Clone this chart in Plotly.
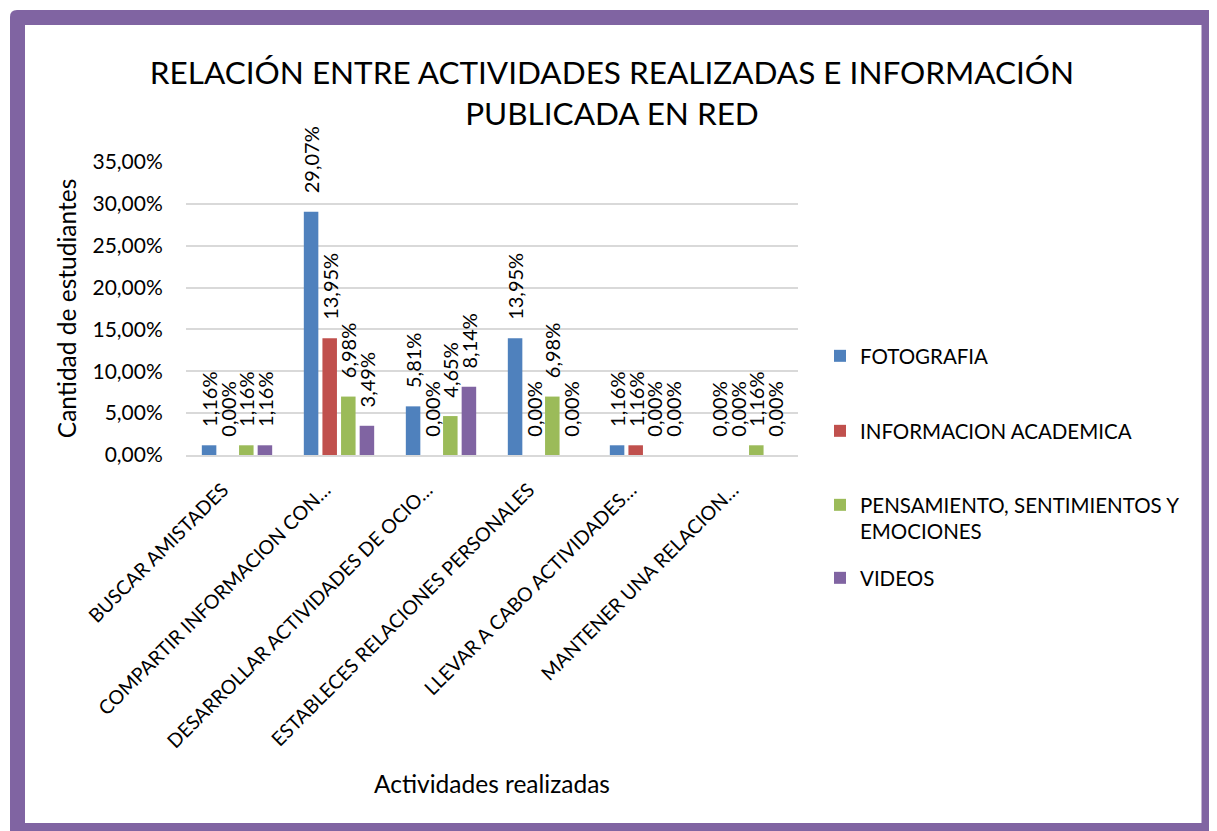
import plotly.graph_objects as go

categories = [
    "BUSCAR AMISTADES",
    "COMPARTIR INFORMACION CON…",
    "DESARROLLAR ACTIVIDADES DE OCIO…",
    "ESTABLECES RELACIONES PERSONALES",
    "LLEVAR A CABO ACTIVIDADES…",
    "MANTENER UNA RELACION…",
]
series_names = [
    "FOTOGRAFIA",
    "INFORMACION ACADEMICA",
    "PENSAMIENTO, SENTIMIENTOS Y<br>EMOCIONES",
    "VIDEOS",
]
fotografia = [1.16, 29.07, 5.81, 13.95, 1.16, 0.00]
informacion_academica = [0.00, 13.95, 0.00, 0.00, 1.16, 0.00]
pensamiento = [1.16, 6.98, 4.65, 6.98, 0.00, 1.16]
videos = [1.16, 3.49, 8.14, 0.00, 0.00, 0.00]
y_ticks = [0, 5, 10, 15, 20, 25, 30, 35]

series_values = [fotografia, informacion_academica, pensamiento, videos]
colors = ["#4F81BD", "#C0504D", "#9BBB59", "#8064A2"]

# page body adds an 8px offset; work in reference-pixel coordinates minus it
OFF = 8
W, H = 1217 - OFF, 831 - OFF
PL, PR, PT, PB = 186 - OFF, 798 - OFF, 162 - OFF, 455 - OFF
ML, MR, MT, MB = PL, W - PR, PT, H - PB
PW, PH = PR - PL, PB - PT


def px_x(px):
    return (px - OFF - ML) / PW


def px_y(py):
    return (PB - (py - OFF)) / PH


FONT = "Lato"
NB = "\u00a0"

fig = go.Figure()
legend_names = ["legend", "legend2", "legend3", "legend4"]
legend_y_ref = [356, 431, 505, 578]
for name, vals, col, lg in zip(series_names, series_values, colors, legend_names):
    fig.add_trace(go.Bar(
        name=name,
        x=categories,
        y=[v / 100 for v in vals],
        marker=dict(color=col, line=dict(width=0)),
        text=[(NB * 3 + f"{v:.2f}".replace(".", ",") + "%") for v in vals],
        textposition="outside",
        textangle=-90,
        constraintext="none",
        cliponaxis=False,
        textfont=dict(family=FONT, size=20, color="#000000"),
        legend=lg,
    ))

# frame
r = 7
x0, y0, x1, y1 = 10, 10, 1217, 845
path = (f"M {px_x(x0)},{px_y(y1)} L {px_x(x0)},{px_y(y0 + r)} "
        f"Q {px_x(x0)},{px_y(y0)} {px_x(x0 + r)},{px_y(y0)} "
        f"L {px_x(x1 - r)},{px_y(y0)} Q {px_x(x1)},{px_y(y0)} {px_x(x1)},{px_y(y0 + r)} "
        f"L {px_x(x1)},{px_y(y1)} Z")
fig.add_shape(type="path", path=path, xref="paper", yref="paper",
              fillcolor="#8064A2", line=dict(width=0), layer="below")
fig.add_shape(type="rect", xref="paper", yref="paper",
              x0=px_x(25), x1=px_x(1201.5), y0=px_y(823), y1=px_y(25),
              fillcolor="#FFFFFF", line=dict(width=0), layer="below")

legend_common = dict(
    font=dict(family=FONT, size=20.5, color="#000000"),
    valign="top",
    bgcolor="rgba(0,0,0,0)",
    xanchor="left",
    yanchor="top",
)
legends = {}
for lg, yc in zip(legend_names, legend_y_ref):
    legends[lg] = dict(legend_common, x=px_x(820), y=px_y(yc - 20))

fig.update_layout(
    width=W, height=H,
    margin=dict(l=ML, r=MR, t=MT, b=MB, autoexpand=False),
    paper_bgcolor="#FFFFFF",
    plot_bgcolor="rgba(0,0,0,0)",
    separators=",.",
    font=dict(family=FONT, color="#000000"),
    barmode="group",
    bargap=0.27,
    bargroupgap=0.22,
    title=dict(
        text="RELACIÓN ENTRE ACTIVIDADES REALIZADAS E INFORMACIÓN<br>PUBLICADA EN RED",
        x=(612 - OFF) / W, xanchor="center", y=1 - (84 - OFF) / H, yanchor="middle",
        font=dict(family=FONT, size=31.5, color="#000000"),
    ),
    xaxis=dict(
        showgrid=False,
        showline=True, linecolor="#D9D9D9", linewidth=1.5,
        tickangle=-45,
        ticks="",
        tickvals=categories,
        ticktext=[c + NB * 4 for c in categories],
        tickfont=dict(family=FONT, size=19.5, color="#000000"),
        title=dict(text="Actividades realizadas", font=dict(family=FONT, size=24.5), standoff=24),
        automargin=False,
    ),
    yaxis=dict(
        range=[0, 0.35],
        tickvals=[v / 100 for v in y_ticks],
        tickformat=".2%",
        showgrid=True, gridcolor="#D9D9D9", gridwidth=1.5,
        zeroline=False,
        showline=False,
        ticks="outside", ticklen=18, tickcolor="rgba(0,0,0,0)",
        tickfont=dict(family=FONT, size=21, color="#000000"),
        title=dict(text="Cantidad de estudiantes", font=dict(family=FONT, size=24.5), standoff=8),
        automargin=False,
    ),
    showlegend=True,
    **legends,
)

fig.write_html("out.html")
